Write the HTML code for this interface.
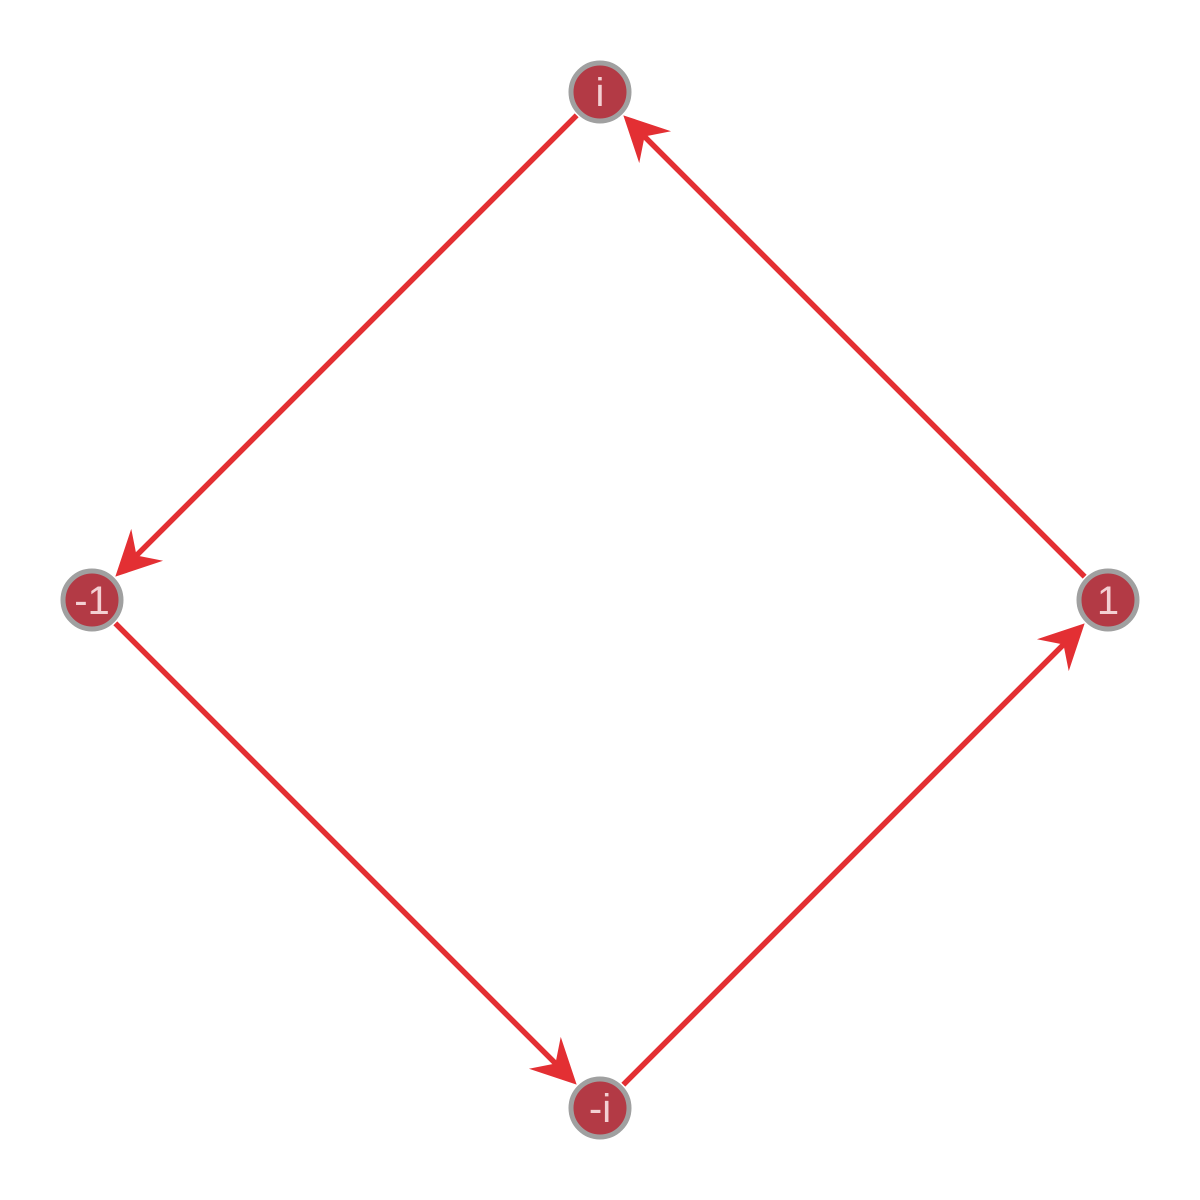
<!DOCTYPE html>
<html><head><meta charset="utf-8"><style>
html,body{margin:0;padding:0;background:#fff;}
svg{display:block;}
text.lbl{font-family:"Liberation Sans","DejaVu Sans",sans-serif;font-size:40px;fill:#f3d0d3;}
</style></head><body>
<svg id="chart" width="1200" height="1200" viewBox="0 0 1200 1200" xmlns="http://www.w3.org/2000/svg">
<g id="edges"></g><g id="nodes"></g>
</svg>
<script>
const nodeLabels = ["i", "-1", "-i", "1"];
const nodeX = [0, -1, 0, 1];
const nodeY = [1, 0, -1, 0];
const edgeFrom = [0, 1, 2, 3];
const edgeTo = [1, 2, 3, 0];

const NS = "http://www.w3.org/2000/svg";
function sx(v){ return 600 + v * 508; }
function sy(v){ return 600 - v * 508; }
const R = 33;
const eg = document.getElementById("edges");
const ng = document.getElementById("nodes");
for (let k = 0; k < edgeFrom.length; k++) {
  const a = edgeFrom[k], b = edgeTo[k];
  const x1 = sx(nodeX[a]), y1 = sy(nodeY[a]), x2 = sx(nodeX[b]), y2 = sy(nodeY[b]);
  const L = Math.hypot(x2 - x1, y2 - y1);
  const ux = (x2 - x1) / L, uy = (y2 - y1) / L;
  const px = -uy, py = ux;
  const sxp = x1 + ux * R, syp = y1 + uy * R;
  const tx = x2 - ux * R, ty = y2 - uy * R;
  const line = document.createElementNS(NS, "line");
  
  
  line.setAttribute("x1", sxp); line.setAttribute("y1", syp);
  line.setAttribute("x2", tx - ux * 25); line.setAttribute("y2", ty - uy * 25);
  line.setAttribute("stroke", "#e32f33"); line.setAttribute("stroke-width", "5.5");
  eg.appendChild(line);
  const hl = 45, hw = 22.5, notch = 30;
  const pts = [
    [tx, ty],
    [tx - ux * hl + px * hw, ty - uy * hl + py * hw],
    [tx - ux * notch, ty - uy * notch],
    [tx - ux * hl - px * hw, ty - uy * hl - py * hw]
  ];
  const head = document.createElementNS(NS, "polygon");
  
  
  head.setAttribute("points", pts.map(p => p.join(",")).join(" "));
  head.setAttribute("fill", "#e32f33");
  eg.appendChild(head);
}
for (let i = 0; i < nodeLabels.length; i++) {
  const g = document.createElementNS(NS, "g");
  
  
  const c = document.createElementNS(NS, "circle");
  
  
  c.setAttribute("cx", sx(nodeX[i])); c.setAttribute("cy", sy(nodeY[i]));
  c.setAttribute("r", 29); c.setAttribute("fill", "#b33a45");
  c.setAttribute("stroke", "#a0a0a0"); c.setAttribute("stroke-width", "5");
  g.appendChild(c);
  const t = document.createElementNS(NS, "text");
  
  
  t.setAttribute("class", "lbl");
  t.setAttribute("font-size", "40");
  t.setAttribute("x", sx(nodeX[i])); t.setAttribute("y", sy(nodeY[i]) + 14);
  t.setAttribute("text-anchor", "middle");
  t.textContent = nodeLabels[i];
  g.appendChild(t);
  ng.appendChild(g);
}
</script>
</body></html>
